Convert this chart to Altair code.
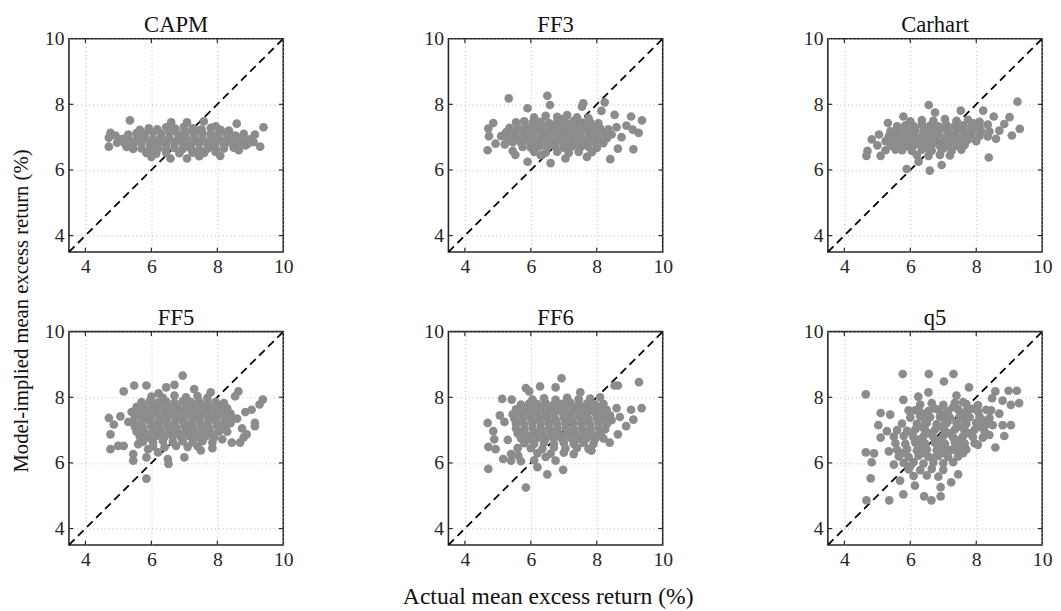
import altair as alt
import pandas as pd

FONT = "Liberation Serif"
TICKS = [4, 6, 8, 10]
INNER_TICKS = [4, 6, 8]
DOMAIN = [3.5, 10]
X_TITLE = "Actual mean excess return (%)"
Y_TITLE = "Model-implied mean excess return (%)"
MODELS = ["CAPM", "FF3", "Carhart", "FF5", "FF6", "q5"]

CAPM_PTS = [
    (5.35,7.51),(4.76,7.13),(4.71,6.98),(4.71,6.71),(4.91,7.05),(4.96,6.83),(9.40,7.30),(9.30,6.71),
    (9.14,7.08),(8.99,6.93),(8.59,7.41),(9.10,6.85),(6.58,6.35),(7.08,6.35),(8.09,6.43),(6.60,7.45),
    (7.08,7.45),(7.59,7.48),(7.95,7.33),(5.15,6.95),(5.25,6.70),(8.80,7.10),(8.85,6.75),
    (5.65,7.22),(5.92,7.27),(6.18,7.24),(6.45,7.30),(6.72,7.26),(6.98,7.31),(7.25,7.27),(7.52,7.24),
    (7.80,7.28),(8.10,7.22),(8.35,7.20),
    (5.30,7.08),(5.55,7.12),(5.80,7.10),(6.05,7.14),(6.30,7.09),(6.55,7.13),(6.80,7.11),(7.05,7.15),
    (7.30,7.10),(7.55,7.12),(7.80,7.09),(8.05,7.13),(8.30,7.08),(8.55,7.05),
    (5.05,6.93),(5.30,6.97),(5.55,6.94),(5.80,6.98),(6.05,6.95),(6.30,6.99),(6.55,6.96),(6.80,6.94),
    (7.05,6.98),(7.30,6.95),(7.55,6.97),(7.80,6.93),(8.05,6.96),(8.30,6.94),(8.55,6.92),(8.75,6.97),
    (5.20,6.80),(5.45,6.78),(5.70,6.82),(5.95,6.79),(6.20,6.81),(6.45,6.77),(6.70,6.80),(6.95,6.82),
    (7.20,6.78),(7.45,6.81),(7.70,6.79),(7.95,6.82),(8.20,6.78),(8.45,6.80),(8.70,6.83),(8.92,6.79),
    (5.45,6.64),(5.70,6.66),(5.95,6.62),(6.20,6.65),(6.45,6.63),(6.70,6.67),(6.95,6.64),(7.20,6.66),
    (7.45,6.62),(7.70,6.65),(7.95,6.63),(8.20,6.66),(8.50,6.68),
    (5.85,6.52),(6.15,6.50),(6.45,6.53),(6.85,6.51),(7.25,6.53),(7.60,6.52),(7.95,6.55),
    (5.78,7.04),(6.42,6.88),(6.93,7.05),(7.42,6.88),(7.92,7.03),(8.40,6.87),(6.17,6.72),(7.07,6.72),
    (7.83,6.72),(6.62,7.20),(7.40,7.19),(5.50,6.87),(8.65,6.60),(6.00,6.40),(7.45,6.42),
]

FF3_PTS = [
    (5.33,8.18),(6.50,8.26),(6.58,7.98),(5.90,7.88),(7.59,8.03),(7.55,7.93),(8.24,8.06),(8.14,7.80),
    (8.54,7.68),(9.04,7.63),(9.37,7.51),(9.27,7.13),(9.09,7.23),(9.11,6.63),(8.64,6.65),(8.41,6.33),
    (8.75,7.00),(4.71,7.26),(4.86,7.43),(4.73,7.03),(4.69,6.60),(4.93,6.80),(5.21,6.78),(5.10,7.03),
    (5.45,6.58),(5.53,6.46),(5.90,6.25),(6.60,6.21),(7.05,6.35),(7.70,6.40),(8.90,7.35),(8.60,7.30),
    (6.10,7.60),(6.45,7.65),(6.80,7.62),(7.10,7.67),(7.40,7.60),(7.75,7.58),
    (5.55,7.45),(5.80,7.48),(6.05,7.44),(6.30,7.47),(6.55,7.43),(6.80,7.48),(7.05,7.45),(7.30,7.49),
    (7.55,7.44),(7.80,7.46),(8.05,7.42),
    (5.35,7.28),(5.60,7.31),(5.85,7.29),(6.10,7.33),(6.35,7.30),(6.60,7.28),(6.85,7.32),(7.10,7.29),
    (7.35,7.31),(7.60,7.28),(7.85,7.32),(8.10,7.27),(8.35,7.24),
    (5.25,7.15),(5.50,7.13),(5.75,7.17),(6.00,7.14),(6.25,7.16),(6.50,7.12),(6.75,7.15),(7.00,7.17),
    (7.25,7.13),(7.50,7.16),(7.75,7.14),(8.00,7.17),(8.25,7.12),(8.45,7.08),
    (5.30,6.98),(5.55,7.01),(5.80,6.99),(6.05,7.02),(6.30,6.98),(6.55,7.00),(6.80,7.03),(7.05,6.99),
    (7.30,7.01),(7.55,6.98),(7.80,7.02),(8.05,6.99),(8.30,6.96),
    (5.45,6.85),(5.70,6.83),(5.95,6.87),(6.20,6.84),(6.45,6.86),(6.70,6.83),(6.95,6.87),(7.20,6.84),
    (7.45,6.86),(7.70,6.83),(7.95,6.85),(8.20,6.82),
    (5.75,6.70),(6.00,6.68),(6.25,6.72),(6.50,6.69),(6.75,6.71),(7.00,6.68),(7.25,6.72),(7.50,6.69),
    (7.75,6.70),(8.00,6.67),
    (6.10,6.55),(6.45,6.53),(6.80,6.56),(7.15,6.52),(7.45,6.55),(7.85,6.54),
    (6.22,7.38),(6.68,7.37),(7.18,7.38),(7.68,7.37),(5.92,7.07),(6.42,7.07),(6.92,7.08),(7.42,7.07),
    (7.92,7.08),(6.12,6.77),(6.62,6.77),(7.12,6.77),(7.62,6.77),(6.95,7.55),(6.30,6.45),
]

CARHART_PTS = [
    (9.25,8.08),(6.56,7.98),(7.53,7.81),(8.21,7.81),(8.53,7.63),(9.01,7.61),(9.32,7.25),(9.08,7.05),
    (8.85,7.40),(8.38,6.38),(5.89,6.03),(6.59,5.98),(4.70,6.58),(4.67,6.43),(4.83,6.93),(5.10,6.43),
    (5.05,7.08),(5.32,7.43),(5.79,7.63),(6.75,7.75),(8.70,7.20),(8.60,6.95),(5.00,6.75),(5.25,6.60),
    (6.25,6.25),(6.95,6.15),
    (6.00,7.48),(6.35,7.52),(6.70,7.50),(7.05,7.55),(7.40,7.50),(7.75,7.53),(8.10,7.47),
    (5.60,7.33),(5.85,7.36),(6.10,7.34),(6.35,7.38),(6.60,7.35),(6.85,7.33),(7.10,7.37),(7.35,7.34),
    (7.60,7.36),(7.85,7.33),(8.10,7.35),(8.35,7.38),
    (5.40,7.18),(5.65,7.21),(5.90,7.19),(6.15,7.22),(6.40,7.18),(6.65,7.20),(6.90,7.23),(7.15,7.19),
    (7.40,7.21),(7.65,7.18),(7.90,7.22),(8.15,7.19),(8.40,7.17),
    (5.35,7.03),(5.60,7.06),(5.85,7.04),(6.10,7.07),(6.35,7.03),(6.60,7.05),(6.85,7.08),(7.10,7.04),
    (7.35,7.06),(7.60,7.03),(7.85,7.07),(8.10,7.04),(8.35,7.02),
    (5.25,6.88),(5.50,6.91),(5.75,6.89),(6.00,6.92),(6.25,6.88),(6.50,6.90),(6.75,6.93),(7.00,6.89),
    (7.25,6.91),(7.50,6.88),(7.75,6.92),(8.00,6.88),
    (5.40,6.74),(5.65,6.76),(5.90,6.73),(6.15,6.77),(6.40,6.74),(6.65,6.76),(6.90,6.73),(7.15,6.77),
    (7.40,6.74),(7.65,6.76),
    (5.75,6.60),(6.05,6.58),(6.35,6.62),(6.65,6.59),(6.95,6.61),(7.25,6.58),(7.55,6.62),
    (6.20,6.45),(6.55,6.43),(6.90,6.46),(7.20,6.44),
    (6.48,7.27),(6.97,7.28),(7.48,7.27),(7.98,7.28),(5.72,6.97),(6.22,6.97),(6.72,6.98),(7.22,6.97),
    (7.72,6.98),(6.02,6.67),(6.52,6.67),(7.02,6.67),(7.92,7.42),(5.55,6.62),
]

FF5_PTS = [
    (6.95,8.66),(5.48,8.36),(5.16,8.18),(5.85,8.36),(6.45,8.30),(6.70,8.38),(8.64,8.18),(8.54,8.03),
    (9.38,7.93),(9.28,7.78),(9.04,7.62),(8.85,7.55),(9.14,7.22),(9.14,7.12),(8.89,6.87),(8.80,6.78),
    (8.69,6.62),(8.44,6.62),(4.71,7.37),(4.76,6.87),(4.76,6.42),(4.99,6.52),(5.16,6.52),(5.06,7.42),
    (4.86,7.17),(5.30,7.25),(5.45,6.27),(5.45,6.07),(5.90,6.42),(5.85,6.17),(5.85,5.52),(6.20,6.32),
    (6.50,6.12),(6.52,5.97),(7.00,6.17),(7.50,6.38),(7.85,6.45),(8.60,7.35),(8.75,7.05),(7.30,8.25),
    (7.80,8.15),
    (6.00,8.02),(6.35,7.98),(6.70,8.05),(7.05,8.00),(7.40,8.04),(7.70,7.98),
    (5.70,7.85),(5.95,7.88),(6.20,7.84),(6.45,7.87),(6.70,7.83),(6.95,7.88),(7.20,7.85),(7.45,7.87),
    (7.70,7.84),(7.95,7.86),(8.20,7.82),
    (5.55,7.70),(5.80,7.68),(6.05,7.72),(6.30,7.69),(6.55,7.71),(6.80,7.68),(7.05,7.72),(7.30,7.69),
    (7.55,7.71),(7.80,7.68),(8.05,7.72),(8.30,7.66),
    (5.40,7.55),(5.65,7.53),(5.90,7.57),(6.15,7.54),(6.40,7.56),(6.65,7.53),(6.90,7.57),(7.15,7.54),
    (7.40,7.56),(7.65,7.53),(7.90,7.57),(8.15,7.54),(8.40,7.50),
    (5.50,7.40),(5.75,7.38),(6.00,7.42),(6.25,7.39),(6.50,7.41),(6.75,7.38),(7.00,7.42),(7.25,7.39),
    (7.50,7.41),(7.75,7.38),(8.00,7.42),(8.25,7.39),(8.45,7.36),
    (5.45,7.25),(5.70,7.23),(5.95,7.27),(6.20,7.24),(6.45,7.26),(6.70,7.23),(6.95,7.27),(7.20,7.24),
    (7.45,7.26),(7.70,7.23),(7.95,7.27),(8.20,7.24),(8.40,7.21),
    (5.50,7.10),(5.75,7.08),(6.00,7.12),(6.25,7.09),(6.50,7.11),(6.75,7.08),(7.00,7.12),(7.25,7.09),
    (7.50,7.11),(7.75,7.08),(8.00,7.12),(8.25,7.08),
    (5.55,6.95),(5.80,6.93),(6.05,6.97),(6.30,6.94),(6.55,6.96),(6.80,6.93),(7.05,6.97),(7.30,6.94),
    (7.55,6.96),(7.80,6.93),(8.05,6.96),
    (5.65,6.80),(5.90,6.78),(6.15,6.82),(6.40,6.79),(6.65,6.81),(6.90,6.78),(7.15,6.82),(7.40,6.79),
    (7.65,6.81),(7.90,6.78),
    (5.75,6.65),(6.05,6.63),(6.35,6.67),(6.65,6.64),(6.95,6.66),(7.25,6.63),(7.55,6.66),(7.85,6.62),
    (6.05,6.50),(6.40,6.48),(6.75,6.52),(7.10,6.49),(7.40,6.51),
    (5.60,6.57),(8.15,6.72),(8.30,6.95),(6.22,8.12),
]

FF6_PTS = [
    (6.93,8.58),(5.85,8.28),(6.28,8.33),(6.75,8.30),(5.95,8.18),(5.13,7.95),(5.42,7.93),(8.54,8.36),
    (8.64,8.36),(9.28,8.46),(9.36,7.67),(9.04,7.62),(8.60,7.67),(9.11,7.32),(8.89,7.12),(8.64,6.87),
    (8.39,6.62),(4.69,7.22),(5.06,7.45),(4.86,6.97),(4.89,6.72),(4.71,6.49),(4.93,6.42),(5.30,6.70),
    (5.16,6.12),(5.40,6.07),(5.40,6.27),(4.71,5.82),(5.85,5.25),(6.20,5.87),(6.50,5.65),(6.98,5.79),
    (6.75,6.07),(7.30,6.27),(7.84,6.37),(7.50,8.15),(8.10,8.00),(8.70,7.40),(5.20,7.25),
    (6.05,7.93),(6.40,7.97),(6.75,7.92),(7.10,7.98),(7.45,7.94),(7.80,7.96),
    (5.70,7.78),(5.95,7.81),(6.20,7.79),(6.45,7.82),(6.70,7.78),(6.95,7.80),(7.20,7.83),(7.45,7.79),
    (7.70,7.81),(7.95,7.78),(8.20,7.80),
    (5.55,7.63),(5.80,7.66),(6.05,7.64),(6.30,7.67),(6.55,7.63),(6.80,7.65),(7.05,7.68),(7.30,7.64),
    (7.55,7.66),(7.80,7.63),(8.05,7.67),(8.30,7.62),
    (5.45,7.48),(5.70,7.51),(5.95,7.49),(6.20,7.52),(6.45,7.48),(6.70,7.50),(6.95,7.53),(7.20,7.49),
    (7.45,7.51),(7.70,7.48),(7.95,7.52),(8.20,7.49),(8.40,7.45),
    (5.50,7.35),(5.75,7.33),(6.00,7.37),(6.25,7.34),(6.50,7.36),(6.75,7.33),(7.00,7.37),(7.25,7.34),
    (7.50,7.36),(7.75,7.33),(8.00,7.37),(8.25,7.34),(8.45,7.30),
    (5.55,7.20),(5.80,7.18),(6.05,7.22),(6.30,7.19),(6.55,7.21),(6.80,7.18),(7.05,7.22),(7.30,7.19),
    (7.55,7.21),(7.80,7.18),(8.05,7.22),(8.30,7.18),
    (5.55,7.05),(5.80,7.03),(6.05,7.07),(6.30,7.04),(6.55,7.06),(6.80,7.03),(7.05,7.07),(7.30,7.04),
    (7.55,7.06),(7.80,7.03),(8.05,7.06),(8.25,7.02),
    (5.60,6.90),(5.85,6.88),(6.10,6.92),(6.35,6.89),(6.60,6.91),(6.85,6.88),(7.10,6.92),(7.35,6.89),
    (7.60,6.91),(7.85,6.88),(8.10,6.90),
    (5.70,6.75),(5.95,6.73),(6.20,6.77),(6.45,6.74),(6.70,6.76),(6.95,6.73),(7.20,6.77),(7.45,6.74),
    (7.70,6.76),(7.95,6.73),
    (5.80,6.60),(6.10,6.58),(6.40,6.62),(6.70,6.59),(7.00,6.61),(7.30,6.58),(7.60,6.61),(7.90,6.58),
    (6.00,6.45),(6.35,6.43),(6.70,6.47),(7.05,6.44),(7.40,6.46),(7.75,6.43),
    (6.20,6.30),(6.60,6.28),(7.00,6.31),
    (5.62,6.22),(5.70,6.05),(6.10,6.08),(6.45,6.18),(5.60,6.45),(8.20,6.75),
]

Q5_PTS = [
    (4.65,8.09),(5.77,8.71),(6.56,8.71),(7.31,8.71),(7.02,8.48),(7.78,8.30),(8.58,8.18),(8.98,8.20),
    (9.23,8.20),(9.30,7.82),(9.05,7.77),(8.80,7.90),(8.48,7.97),(5.79,7.92),(6.24,8.02),(5.10,7.52),
    (5.39,7.47),(5.03,7.15),(5.29,6.97),(5.10,6.77),(4.65,6.32),(4.90,6.29),(4.83,6.02),(4.80,5.53),
    (4.67,4.86),(5.36,4.86),(5.79,5.04),(6.42,4.98),(6.64,4.86),(6.92,4.98),(6.92,5.26),(6.14,5.31),
    (5.69,5.46),(7.24,5.41),(7.45,5.65),(8.58,6.47),(8.85,6.82),(9.05,7.15),(8.80,7.15),(8.70,7.50),
    (5.35,6.35),(5.50,5.95),(6.55,8.15),(7.40,8.05),
    (6.30,7.78),(6.65,7.82),(7.00,7.77),(7.35,7.83),(7.70,7.79),(8.05,7.76),
    (5.95,7.60),(6.25,7.63),(6.55,7.58),(6.85,7.62),(7.15,7.59),(7.45,7.63),(7.75,7.60),(8.05,7.58),
    (8.30,7.62),
    (6.00,7.38),(6.30,7.42),(6.60,7.39),(6.90,7.41),(7.20,7.38),(7.50,7.42),(7.80,7.39),(8.10,7.41),
    (8.40,7.37),
    (5.75,7.20),(6.20,7.19),(6.50,7.22),(6.80,7.18),(7.10,7.21),(7.40,7.23),(7.70,7.19),(8.00,7.22),
    (8.30,7.18),
    (5.60,7.00),(5.90,6.98),(6.15,7.02),(6.45,6.99),(6.75,7.01),(7.05,6.98),(7.35,7.02),(7.65,6.99),
    (7.95,7.01),(8.25,6.97),
    (5.50,6.80),(5.80,6.82),(6.10,6.78),(6.40,6.81),(6.70,6.79),(7.00,6.82),(7.30,6.78),(7.60,6.81),
    (7.90,6.79),(8.20,6.77),
    (5.55,6.60),(5.85,6.58),(6.15,6.62),(6.45,6.59),(6.75,6.61),(7.05,6.58),(7.35,6.62),(7.65,6.59),
    (7.95,6.60),
    (5.60,6.40),(5.90,6.42),(6.20,6.38),(6.50,6.41),(6.80,6.39),(7.10,6.42),(7.40,6.38),(7.70,6.41),
    (5.65,6.20),(5.95,6.18),(6.25,6.22),(6.55,6.19),(6.85,6.21),(7.15,6.18),(7.45,6.20),
    (5.80,6.00),(6.10,6.02),(6.40,5.98),(6.70,6.01),(7.00,5.99),(7.30,6.02),
    (5.95,5.80),(6.30,5.78),(6.65,5.82),(7.00,5.79),
    (6.10,5.60),(6.50,5.62),(6.85,5.58),
    (6.45,7.50),(7.00,7.50),(7.60,7.50),(6.35,7.10),(6.95,7.10),(7.55,7.10),(8.15,7.10),(6.25,6.70),
    (6.90,6.70),(7.50,6.70),(6.35,6.30),(7.00,6.30),(7.60,6.30),(8.05,6.55),
    (6.15,7.60),(6.75,7.65),(7.30,7.70),(7.90,7.65),(6.45,7.30),(7.05,7.30),(7.65,7.30),(8.20,7.30),
    (6.60,6.90),(7.20,6.90),(7.80,6.90),(6.30,6.50),(6.90,6.50),(7.50,6.50),(6.70,6.15),(7.25,6.40),
    (6.05,6.90),(5.75,6.30),(6.00,5.90),(7.60,7.85),(8.45,7.60),(8.50,7.15),(8.40,6.85),
]

ALL_PTS = [CAPM_PTS, FF3_PTS, CARHART_PTS, FF5_PTS, FF6_PTS, Q5_PTS]

PANEL_W = 218
PANEL_H = 217
TICK_LEN = 0.13

axis = alt.Axis(values=TICKS, title=None, ticks=False, domain=False, grid=True,
                gridDash=[1, 3], gridColor="#b8b8b8", gridWidth=1,
                labelFont=FONT, labelFontSize=20, labelColor="#262626",
                labelPadding=5, labelFlush=False)
xs = alt.Scale(domain=DOMAIN, nice=False, zero=False)
ys = alt.Scale(domain=DOMAIN, nice=False, zero=False)


def panel(name, pts):
    df = pd.DataFrame(pts, columns=["x", "y"])
    diag = pd.DataFrame({"x": DOMAIN, "y": DOMAIN})
    lo, hi = DOMAIN
    trows = []
    for v in INNER_TICKS:
        trows.append({"x": v, "x2": v, "y": lo, "y2": lo + TICK_LEN})
        trows.append({"x": v, "x2": v, "y": hi, "y2": hi - TICK_LEN})
        trows.append({"x": lo, "x2": lo + TICK_LEN, "y": v, "y2": v})
        trows.append({"x": hi, "x2": hi - TICK_LEN, "y": v, "y2": v})
    tdf = pd.DataFrame(trows)

    line = alt.Chart(diag).mark_line(color="black", strokeWidth=1.8, strokeDash=[8, 5],
                                     clip=True).encode(
        x=alt.X("x:Q", scale=xs, axis=axis),
        y=alt.Y("y:Q", scale=ys, axis=axis),
    )
    pts_chart = alt.Chart(df).mark_circle(size=78, color="#8c8c8c", opacity=1).encode(
        x=alt.X("x:Q", scale=xs, axis=axis),
        y=alt.Y("y:Q", scale=ys, axis=axis),
    )
    ticks = alt.Chart(tdf).mark_rule(color="#262626", strokeWidth=1.2).encode(
        x=alt.X("x:Q", scale=xs, axis=axis), x2="x2:Q",
        y=alt.Y("y:Q", scale=ys, axis=axis), y2="y2:Q",
    )
    return alt.layer(line, pts_chart, ticks).properties(
        width=PANEL_W, height=PANEL_H,
        title=alt.TitleParams(name, font=FONT, fontSize=23, fontWeight=400,
                              color="#111", offset=-11, dy=-3),
    )


panels = [panel(n, p) for n, p in zip(MODELS, ALL_PTS)]
row1 = alt.hconcat(*panels[:3], spacing=131)
row2 = alt.hconcat(*panels[3:], spacing=131)
grid = alt.vconcat(row1, row2, spacing=29).properties(
    title=alt.TitleParams(X_TITLE, orient="bottom", anchor="middle", font=FONT,
                          fontSize=24, fontWeight=400, color="#111", offset=15)
)
chart = alt.hconcat(grid).properties(
    title=alt.TitleParams(Y_TITLE, orient="left", anchor="middle", font=FONT,
                          fontSize=21, fontWeight=400, color="#111", offset=12)
).configure(
    padding={"left": 3, "top": 0, "right": 0, "bottom": 0},
    view=alt.ViewConfig(stroke="#262626", strokeWidth=1.6),
)

chart.save("out.html", embed_options={"renderer": "svg", "actions": False})
